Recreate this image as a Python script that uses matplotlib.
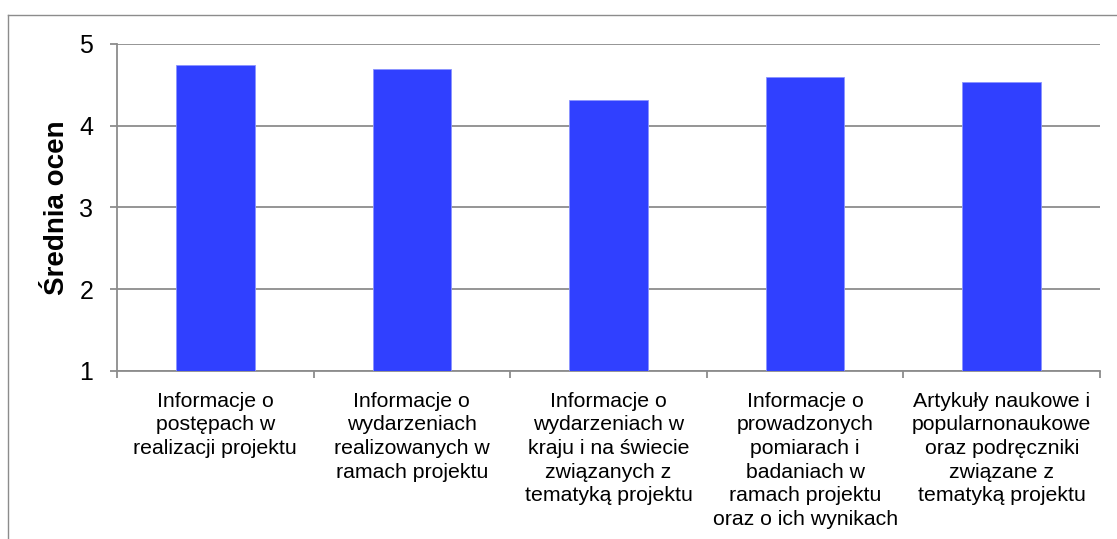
import matplotlib
matplotlib.use("Agg")
import matplotlib.pyplot as plt
from matplotlib.lines import Line2D
import numpy as np

plt.rcParams['font.family'] = ['Liberation Sans', 'DejaVu Sans']

categories = [
    "Informacje o\npostępach w\nrealizacji projektu",
    "Informacje o\nwydarzeniach\nrealizowanych w\nramach projektu",
    "Informacje o\nwydarzeniach w\nkraju i na świecie\nzwiązanych z\ntematyką projektu",
    "Informacje o\nprowadzonych\npomiarach i\nbadaniach w\nramach projektu\noraz o ich wynikach",
    "Artykuły naukowe i\npopularnonaukowe\noraz podręczniki\nzwiązane z\ntematyką projektu",
]
values = [4.74, 4.70, 4.31, 4.60, 4.53]
y_ticks = [1, 2, 3, 4, 5]
y_label = "Średnia ocen"

grid_color = "#8c8c8c"
bar_color = "#3040ff"

fig = plt.figure(figsize=(11.17, 5.39), dpi=100)
ax = fig.add_axes([0.1047, 0.3117, 0.8801, 0.6067])

x = np.arange(len(categories))
ax.bar(x, [v - 1 for v in values], bottom=1, width=0.4, color=bar_color,
       edgecolor="#8a94ff", linewidth=0.6, zorder=3)

ax.set_xlim(-0.5, len(categories) - 0.5)
ax.set_ylim(1, 5)
ax.set_yticks(y_ticks)
ax.set_yticklabels([str(t) for t in y_ticks], fontsize=18)
ax.yaxis.grid(True, color=grid_color, linewidth=1.3, zorder=0)
ax.set_axisbelow(True)

ax.set_xticks(x)
ax.set_xticklabels(categories, fontsize=15.3, linespacing=1.31, va="top")
ax.set_xticks(np.arange(-0.5, len(categories)), minor=True)
ax.tick_params(axis="x", which="major", length=0, pad=15)
ax.tick_params(axis="x", which="minor", length=5, width=1.3, color=grid_color, direction="out")
ax.tick_params(axis="y", length=5, width=1.3, color=grid_color, direction="out", pad=12)

for side in ("top", "right"):
    ax.spines[side].set_visible(False)
for side in ("left", "bottom"):
    ax.spines[side].set_color(grid_color)
    ax.spines[side].set_linewidth(1.3)

ylab = ax.set_ylabel(y_label, fontsize=20, fontweight="bold")
ylab.set_va("center")
ax.yaxis.set_label_coords(-0.061, 0.5)

# outer chart frame (top and left edges)
W, H = 1117, 539
fig.add_artist(Line2D([8 / W, 1.0], [1 - 15 / H, 1 - 15 / H], color=grid_color,
                      linewidth=1.0, transform=fig.transFigure))
fig.add_artist(Line2D([8 / W, 8 / W], [0.0, 1 - 15 / H], color=grid_color,
                      linewidth=1.0, transform=fig.transFigure))

fig.savefig("out.png", dpi=100)
